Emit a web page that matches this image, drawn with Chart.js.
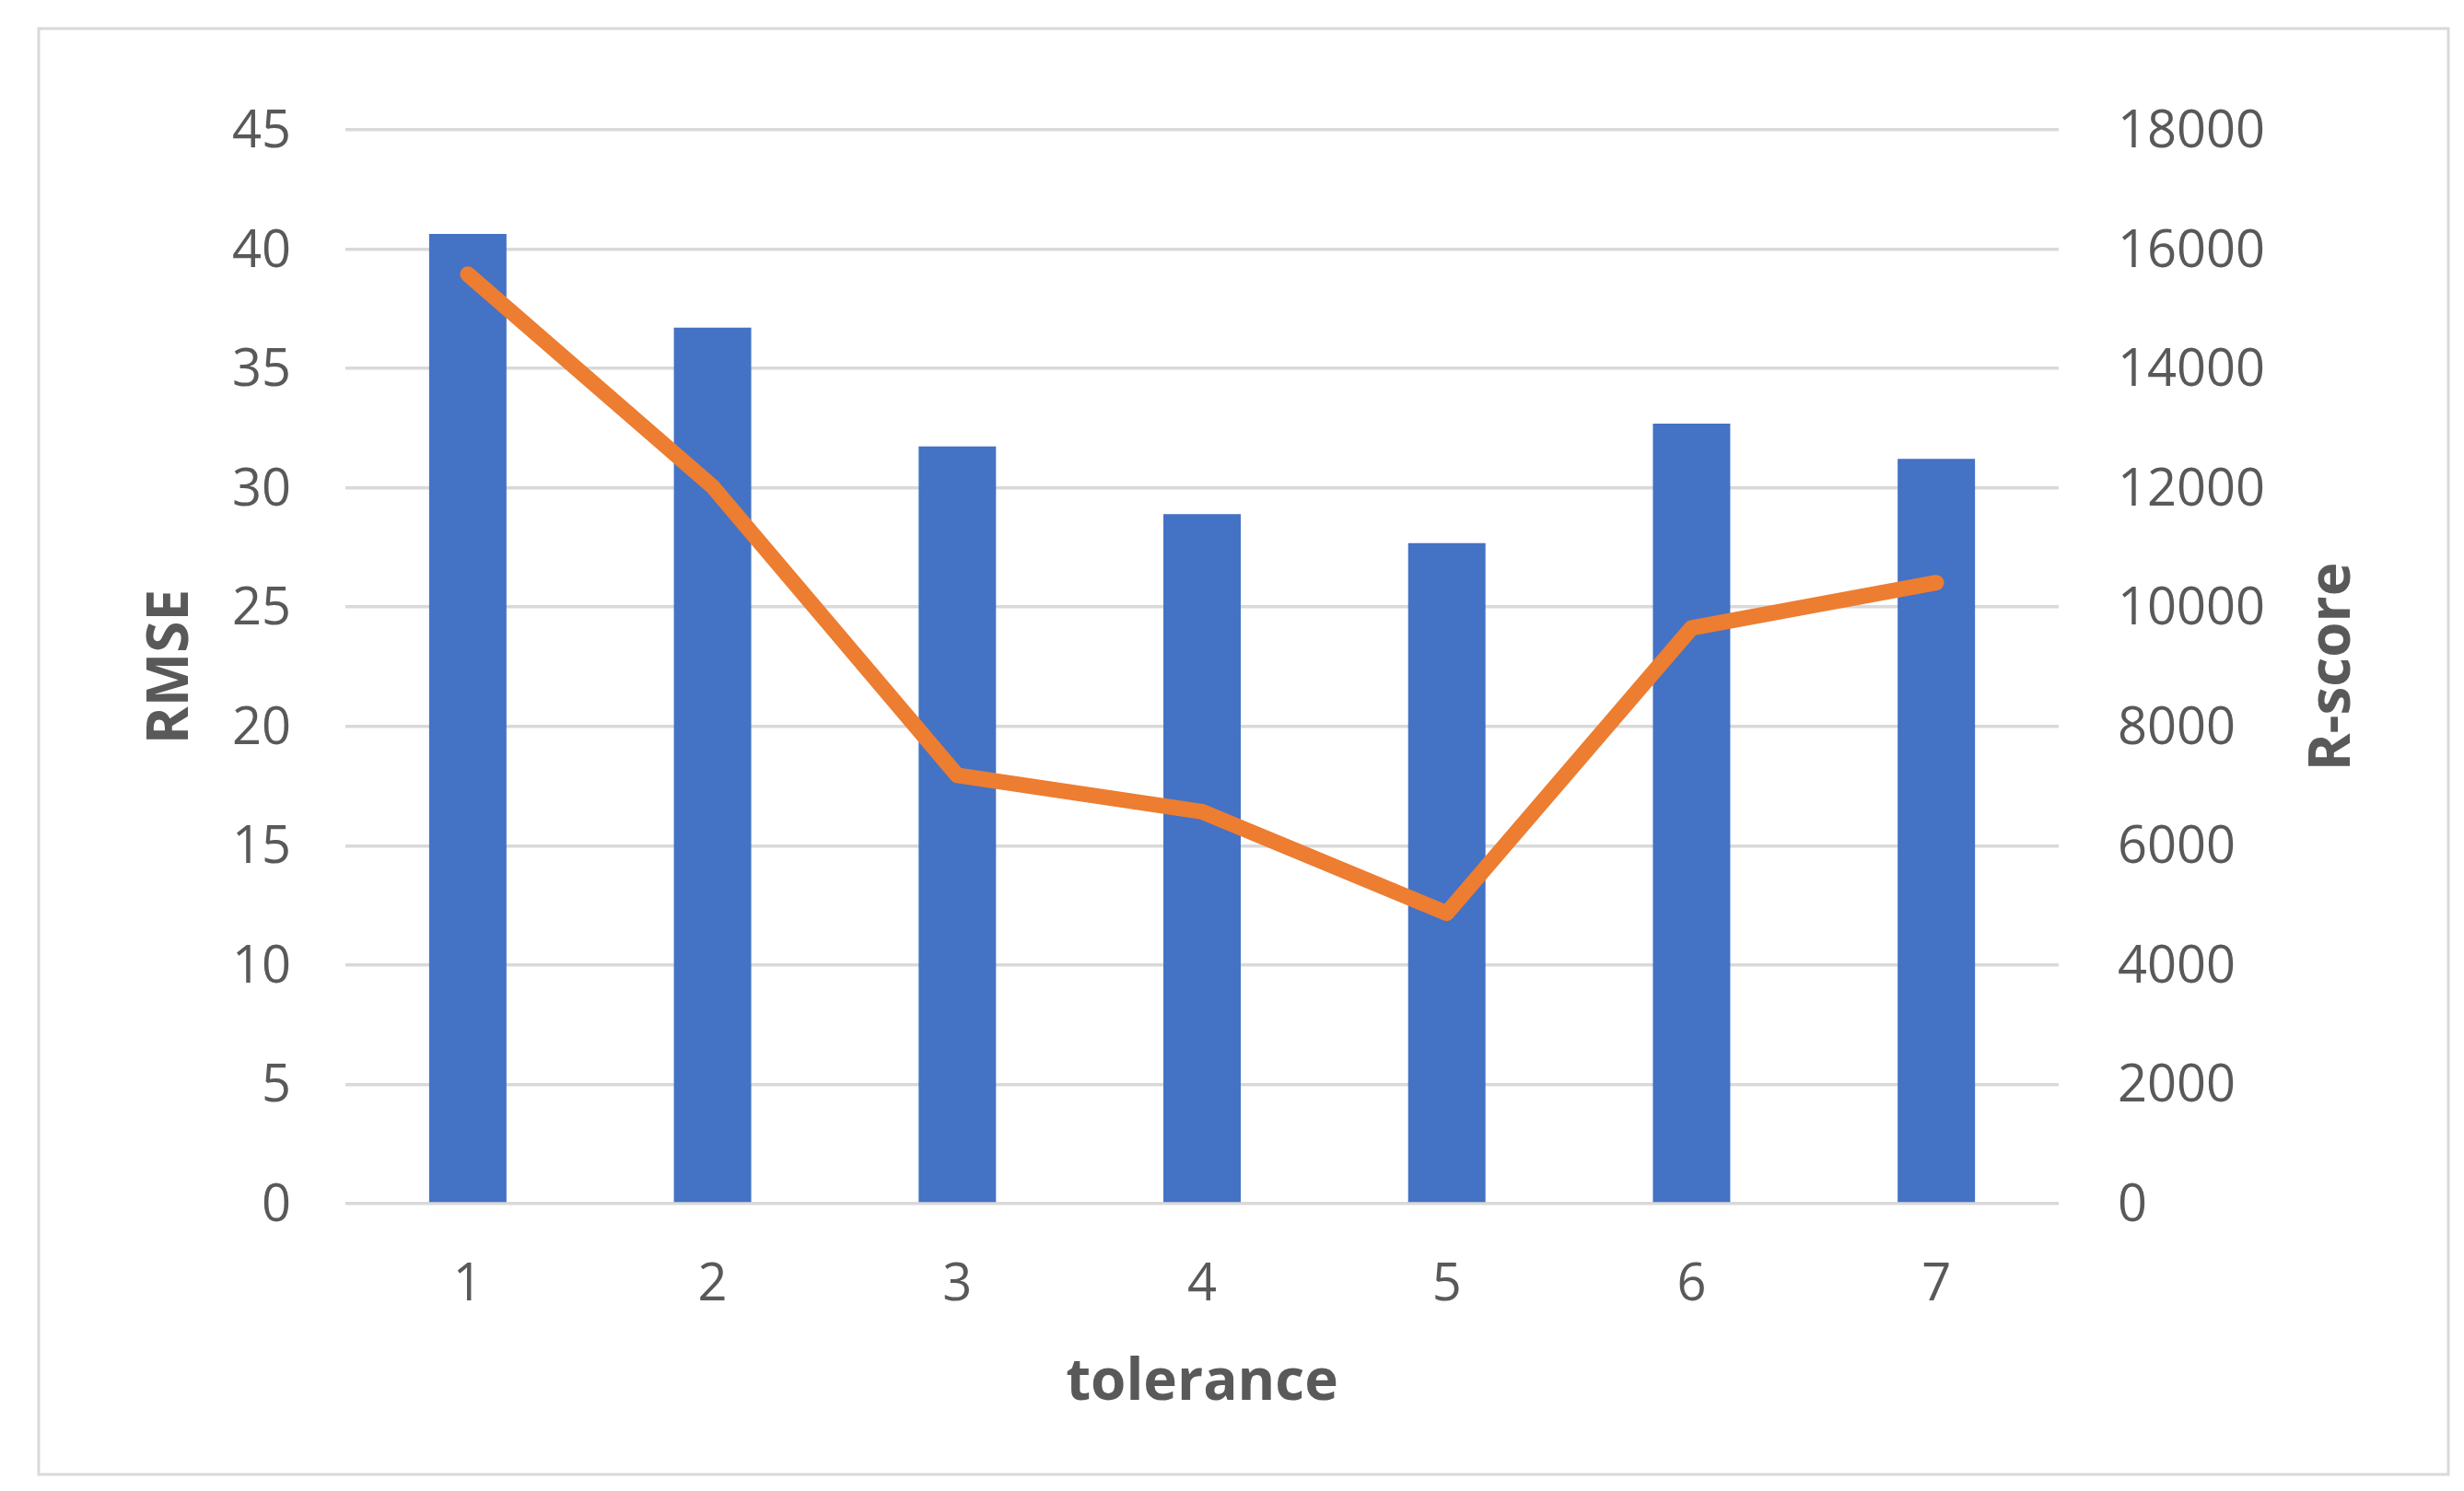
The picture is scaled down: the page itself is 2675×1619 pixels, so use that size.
<!DOCTYPE html>
<html>
<head>
<meta charset="utf-8">
<title>RMSE and R-score vs tolerance</title>
<script src="https://cdn.jsdelivr.net/npm/chart.js@4/dist/chart.umd.min.js"></script>
<style>
    html, body { margin: 0; padding: 0; background: #fff; }
    canvas { display: block; }
</style>
</head>
<body>
<canvas id="chart" width="2675" height="1619"></canvas>
<script>
// data
const toleranceLabels = ['1', '2', '3', '4', '5', '6', '7'];
const rmseValues = [40.64, 36.71, 31.73, 28.9, 27.68, 32.69, 31.21];
const rScoreValues = [15580, 12020, 7180, 6570, 4870, 9650, 10410];
const rmseTicks = [0, 5, 10, 15, 20, 25, 30, 35, 40, 45];
const rScoreTicks = [0, 2000, 4000, 6000, 8000, 10000, 12000, 14000, 16000, 18000];

const textColor = '#595959';
const gridColor = '#D9D9D9';
const fontFamily = '"Open Sans", "Liberation Sans", sans-serif';

// frame round the chart + right axis title (reads bottom to top like the left one)
const framePlugin = {
    id: 'frame',
    beforeDraw: (chart) => {
        const ctx = chart.ctx;
        ctx.save();
        ctx.fillStyle = '#fff';
        ctx.fillRect(0, 0, chart.width, chart.height);
        ctx.strokeStyle = gridColor;
        ctx.lineWidth = 3;
        ctx.strokeRect(42, 31, 2616, 1570);
        ctx.restore();
    },
    afterDraw: (chart) => {
        const ctx = chart.ctx;
        const area = chart.chartArea;
        ctx.save();
        ctx.translate(2533, (area.top + area.bottom) / 2);
        ctx.rotate(-Math.PI / 2);
        ctx.font = 'bold 62px ' + fontFamily;
        ctx.fillStyle = textColor;
        ctx.textAlign = 'center';
        ctx.textBaseline = 'middle';
        ctx.fillText('R-score', 0, 0);
        ctx.restore();
    }
};

const ctx = document.getElementById('chart').getContext('2d');

const config = {
    type: 'bar',
    data: {
        labels: toleranceLabels,
        datasets: [
            {
                type: 'line',
                label: 'R-score',
                data: rScoreValues,
                yAxisID: 'y2',
                borderColor: '#ED7D31',
                backgroundColor: '#ED7D31',
                borderWidth: 17,
                borderCapStyle: 'round',
                borderJoinStyle: 'round',
                pointRadius: 0,
                tension: 0,
                order: 0
            },
            {
                label: 'RMSE',
                data: rmseValues,
                yAxisID: 'y',
                backgroundColor: '#4472C4',
                barPercentage: 0.316,
                categoryPercentage: 1,
                order: 1
            }
        ]
    },
    options: {
        responsive: false,
        animation: false,
        devicePixelRatio: 1,
        layout: {
            padding: { top: 141, left: 0, right: 0, bottom: 0 }
        },
        plugins: {
            legend: { display: false },
            title: { display: false },
            tooltip: { enabled: false }
        },
        scales: {
            x: {
                grid: { display: false, drawTicks: false },
                border: { display: false },
                ticks: {
                    color: textColor,
                    padding: 55,
                    font: { family: fontFamily, size: 56 }
                },
                title: {
                    display: true,
                    text: 'tolerance',
                    color: textColor,
                    font: { family: fontFamily, size: 62, weight: 'bold' },
                    padding: { top: 0, bottom: 79 }
                },
                afterFit: (scale) => { scale.height = 312; }
            },
            y: {
                position: 'left',
                min: 0,
                max: 45,
                afterBuildTicks: (scale) => { scale.ticks = rmseTicks.map(v => ({ value: v })); },
                grid: { color: gridColor, lineWidth: 3.5, drawTicks: false },
                border: { display: false },
                ticks: {
                    color: textColor,
                    padding: 59,
                    labelOffset: 3,
                    font: { family: fontFamily, size: 56 }
                },
                title: {
                    display: true,
                    text: 'RMSE',
                    color: textColor,
                    font: { family: fontFamily, size: 62, weight: 'bold' },
                    padding: { top: 149, bottom: 0 }
                },
                afterFit: (scale) => { scale.width = 375; }
            },
            y2: {
                position: 'right',
                min: 0,
                max: 18000,
                afterBuildTicks: (scale) => { scale.ticks = rScoreTicks.map(v => ({ value: v })); },
                grid: { display: false, drawTicks: false },
                border: { display: false },
                ticks: {
                    color: textColor,
                    padding: 64,
                    labelOffset: 3,
                    font: { family: fontFamily, size: 56 },
                    callback: (value) => String(value)
                },
                afterFit: (scale) => { scale.width = 440; }
            }
        }
    },
    plugins: [framePlugin]
};

window.rmseChart = new Chart(ctx, config);
</script>
</body>
</html>
